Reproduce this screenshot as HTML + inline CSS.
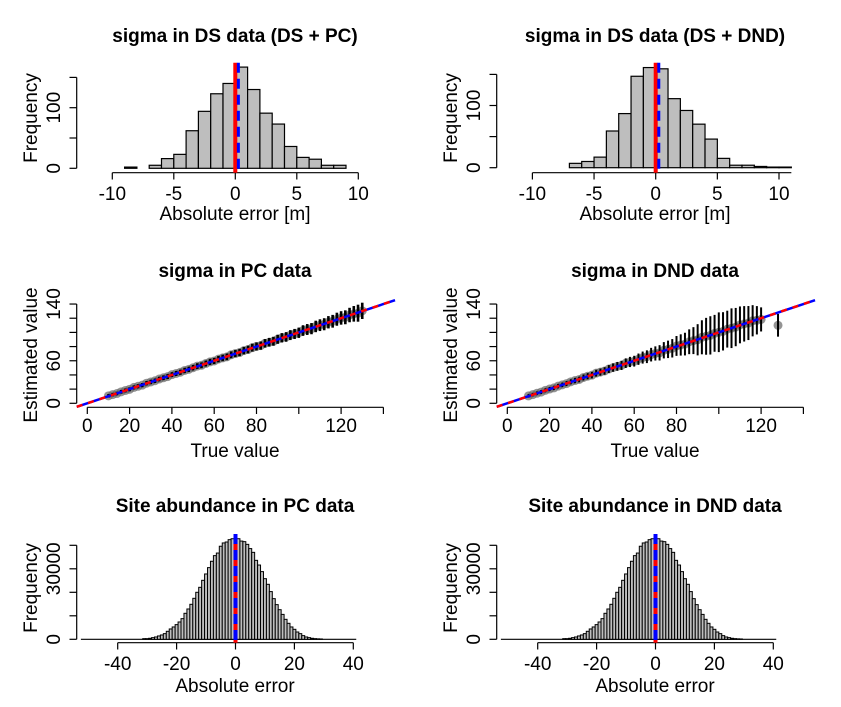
<!DOCTYPE html>
<html><head><meta charset="utf-8"><style>
html,body{margin:0;padding:0;background:#fff;}
svg{display:block;font-family:"Liberation Sans",Arial,sans-serif;}
</style></head><body>
<svg id="fig" width="841" height="707" viewBox="0 0 841 707" xmlns="http://www.w3.org/2000/svg">
<rect width="841" height="707" fill="#fff"/>
</svg>
<script>
// ---- data ----
const tlBinStart = -9;
const tlCounts = [2,0,5,16,23,62,94,123,140,167,130,91,73,36,18,15,5,5];
const trBinStart = -7;
const trCounts = [7,10,17,59,87,147,161,159,111,92,70,46,15,4,4,2,1,1];
const histTicks = [-10,-5,0,5,10];
const freqTicks = [0,50,100,150];
const freqLabels = [0,100];

const abBinStart = -31.5;
const abCounts = [280,280,430,710,990,1420,1840,2410,3400,4400,5250,6240,7370,8790,11060,12900,14890,17440,20000,22120,25100,27800,30500,33200,35600,36700,39600,41000,41400,42400,42800,43250,42800,41800,41550,40400,38600,37000,33600,31600,28800,25800,23400,20300,17300,14750,12600,10600,8500,6800,5250,4250,3100,2400,1560,990,710,430,280,200,150];
const abTicks = [-40,-20,0,20,40];
const abFreqTicks = [0,10000,20000,30000,40000];
const abFreqLabels = [0,30000];

const pcTrue = [10,12,14,16,18,20,22,24,26,28,30,32,34,36,38,40,42,44,46,48,50,52,54,56,58,60,62,64,66,68,70,72,74,76,78,80,82,84,86,88,90,92,94,96,98,100,102,104,106,108,110,112,114,116,118,120,122,124,126,128,130];
const pcEst = [10.5,12.3,13.8,16.2,18.1,19.7,22.4,24,25.6,28.3,30.1,31.8,34.2,36,37.7,40.4,42.1,43.8,46.3,47.9,50.2,52.5,53.6,56.1,58.4,59.7,62.3,64,65.5,68.4,70.2,71.6,74.3,75.8,78.5,80.2,81.4,84.6,86.1,87.5,90.3,92.4,93.6,96.2,97.8,99.5,102.6,104.1,105.3,108.4,110.2,111.5,114.3,115.7,118.6,120.4,121.3,124.5,126.2,127.1,130.4];
const pcHw = [2.5,2.5,2.6,2.7,2.8,2.8,2.9,3,3,3.1,3.2,3.2,3.3,3.4,3.5,3.5,3.6,3.7,3.8,3.8,3.9,4,4.1,4.2,4.3,4.3,4.5,4.6,4.7,4.8,5,5.1,5.2,5.4,5.5,5.6,5.8,6,6.1,6.3,6.4,6.6,6.8,7,7.1,7.3,7.5,7.7,7.9,8.1,8.3,8.5,8.7,9,9.2,9.5,9.8,10.2,11,12,11.5];

const dndTrue = [10,12,14,16,18,20,22,24,26,28,30,32,34,36,38,40,42,44,46,48,50,52,54,56,58,60,62,64,66,68,70,72,74,76,78,80,82,84,86,88,90,92,94,96,98,100,102,104,106,108,110,112,114,116,118,120,128];
const dndEst = [10.4,12.2,14.1,15.8,18.3,20.1,21.7,24.2,26,27.8,30.3,32.1,33.6,36.4,38.2,39.7,42.5,44,45.6,48.3,50.4,52.1,53.5,56.6,58.3,59.4,62.2,64.5,65.7,68.6,70.3,71.2,74.8,76.1,77.6,80.9,82.3,83.5,86.8,88.4,89.6,93.1,94.5,95.8,98.7,100.2,101.5,104.6,105.9,107.5,110.6,112.1,113.2,116.4,117.1,118.3,110];
const dndHw = [2.5,2.6,2.7,2.8,2.9,3,3.1,3.2,3.3,3.5,3.6,3.8,4,4.2,4.4,4.6,4.8,5,5.3,5.6,5.9,6.2,6.5,6.8,7.2,7.6,8,8.5,9,9.6,10,10.8,11.5,12.3,13,14,15,16,17.5,19,22,24,26,27,26,28,27,26,28,27,26,25,24,22,20,17,16];
const scatTicks = [0,20,40,60,80,100,120,140];
const scatXLabels = [0,20,40,60,80,120];
const scatYLabels = [0,60,140];

const FS = 19;
const svg = document.getElementById('fig');
const NS = 'http://www.w3.org/2000/svg';
function mk(tag, attrs, parent){
  const e = document.createElementNS(NS, tag);
  for (const k in attrs) e.setAttribute(k, attrs[k]);
  (parent||svg).appendChild(e);
  return e;
}
function txt(s, x, y, size, opts, parent){
  const e = mk('text', Object.assign({x:x, y:y, 'font-size':size, 'text-anchor':'middle', fill:'#000'}, opts||{}), parent);
  e.textContent = s;
  return e;
}
function panel(name, dx){
  const g = mk('g', {transform:'translate('+dx+',0)'});
  
  
  return g;
}

// ---------- top histograms ----------
function topHist(dx, binStart, counts, x0, ppu, y0, ppc, axisEnd, title, name){
  const g = panel(name, dx);
  const t = txt(title, 235, 42, FS, {'font-weight':'bold'}, g);
  
  
  const X = v => x0 + v*ppu, Y = c => y0 - c*ppc;
  counts.forEach((c,i)=>{
    const a = binStart + i, b = a + 1;
    const r = mk('rect', {x:X(a), y:Y(c), width:X(b)-X(a), height:Math.max(0,Y(0)-Y(c)), fill:'#bebebe', stroke:'#000', 'stroke-width':1.2}, g);
    
    
  });
  const ax = mk('line', {x1:X(histTicks[0]), x2:X(axisEnd), y1:172.7, y2:172.7, stroke:'#000', 'stroke-width':1.2}, g);
  
  
  histTicks.forEach(v=>{
    mk('line', {x1:X(v), x2:X(v), y1:172.7, y2:179.5, stroke:'#000', 'stroke-width':1.2}, g);
    const l = txt(String(v), X(v), 200, FS, {}, g);
    
    
  });
  const xl = txt('Absolute error [m]', 235, 220, FS, {}, g);
  
  
  const ay = mk('line', {x1:76.7, x2:76.7, y1:Y(0), y2:Y(150), stroke:'#000', 'stroke-width':1.2}, g);
  
  
  freqTicks.forEach(v=>{
    mk('line', {x1:69.5, x2:76.7, y1:Y(v), y2:Y(v), stroke:'#000', 'stroke-width':1.2}, g);
  });
  freqLabels.forEach(v=>{
    const l = txt(String(v), 60, Y(v), FS, {transform:'rotate(-90 60 '+Y(v)+')'}, g);
    
    
  });
  const yl = txt('Frequency', 37, 118, FS, {transform:'rotate(-90 37 118)'}, g);
  
  
  const rl = mk('line', {x1:X(0), x2:X(0), y1:62.7, y2:172.7, stroke:'#ff0000', 'stroke-width':4}, g);
  
  
  const bl = mk('line', {x1:X(0.25), x2:X(0.25), y1:62.7, y2:172.7, stroke:'#0000ff', 'stroke-width':3, 'stroke-dasharray':'10,6'}, g);
  
  
}
topHist(0, tlBinStart, tlCounts, 235.3, 12.3, 168.3, 0.606, 10, 'sigma in DS data (DS + PC)', 'panel-ds-pc');
topHist(420, trBinStart, trCounts, 235.7, 12.33, 167.7, 0.622, 11, 'sigma in DS data (DS + DND)', 'panel-ds-dnd');

// ---------- middle scatter ----------
function scatter(dx, trueV, estV, hwV, barW, title, name){
  const g = panel(name, dx);
  const t = txt(title, 235, 277, FS, {'font-weight':'bold'}, g);
  
  
  const X = v => 87.3 + v*2.115, Y = v => 403.3 - v*0.709;
  trueV.forEach((tv,i)=>{
    const p = mk('circle', {cx:X(tv), cy:Y(estV[i]), r:4.5, fill:'#666', 'fill-opacity':0.7}, g);
    
    
  });
  trueV.forEach((tv,i)=>{
    const e = mk('line', {x1:X(tv), x2:X(tv), y1:Y(estV[i]-hwV[i]), y2:Y(estV[i]+hwV[i]), stroke:'#000', 'stroke-width':barW}, g);
    
    
  });
  const l1 = mk('line', {x1:X(-5), y1:Y(-5), x2:X(145.5), y2:Y(145.5), stroke:'#0000ff', 'stroke-width':2.5}, g);
  
  
  const l2 = mk('line', {x1:X(-5), y1:Y(-5), x2:X(145.5), y2:Y(145.5), stroke:'#ff0000', 'stroke-width':2.5, 'stroke-dasharray':'6,6'}, g);
  
  
  const ax = mk('line', {x1:X(0), x2:X(140), y1:407.3, y2:407.3, stroke:'#000', 'stroke-width':1.2}, g);
  
  
  const ay = mk('line', {x1:76.7, x2:76.7, y1:Y(0), y2:Y(140), stroke:'#000', 'stroke-width':1.2}, g);
  
  
  scatTicks.forEach(v=>{
    mk('line', {x1:X(v), x2:X(v), y1:407.3, y2:414, stroke:'#000', 'stroke-width':1.2}, g);
    mk('line', {x1:69.5, x2:76.7, y1:Y(v), y2:Y(v), stroke:'#000', 'stroke-width':1.2}, g);
  });
  scatXLabels.forEach(v=>{
    const l = txt(String(v), X(v), 432, FS, {}, g);
    
    
  });
  scatYLabels.forEach(v=>{
    const l = txt(String(v), 60, Y(v), FS, {transform:'rotate(-90 60 '+Y(v)+')'}, g);
    
    
  });
  const xl = txt('True value', 235, 457, FS, {}, g);
  
  
  const yl = txt('Estimated value', 37, 355, FS, {transform:'rotate(-90 37 355)'}, g);
  
  
}
scatter(0, pcTrue, pcEst, pcHw, 2.6, 'sigma in PC data', 'panel-sigma-pc');
scatter(420, dndTrue, dndEst, dndHw, 2, 'sigma in DND data', 'panel-sigma-dnd');

// ---------- bottom histograms ----------
function botHist(dx, title, name){
  const g = panel(name, dx);
  const t = txt(title, 235, 512, FS, {'font-weight':'bold'}, g);
  
  
  const X = v => 235.5 + v*2.945, Y = c => 639.3 - c*23.5/10000;
  const base = mk('line', {x1:X(-52.5), x2:X(41), y1:Y(0), y2:Y(0), stroke:'#000', 'stroke-width':1.2}, g);
  
  
  abCounts.forEach((c,i)=>{
    const a = abBinStart + i, b = a + 1;
    const r = mk('rect', {x:X(a), y:Y(c), width:X(b)-X(a), height:Y(0)-Y(c), fill:'#bebebe', stroke:'#000', 'stroke-width':1}, g);
    
    
  });
  const ax = mk('line', {x1:X(-40), x2:X(40), y1:642.7, y2:642.7, stroke:'#000', 'stroke-width':1.2}, g);
  
  
  abTicks.forEach(v=>{
    mk('line', {x1:X(v), x2:X(v), y1:642.7, y2:649.5, stroke:'#000', 'stroke-width':1.2}, g);
    const l = txt(String(v), X(v), 670, FS, {}, g);
    
    
  });
  const ay = mk('line', {x1:76.7, x2:76.7, y1:Y(0), y2:Y(40000), stroke:'#000', 'stroke-width':1.2}, g);
  
  
  abFreqTicks.forEach(v=>{
    mk('line', {x1:69.5, x2:76.7, y1:Y(v), y2:Y(v), stroke:'#000', 'stroke-width':1.2}, g);
  });
  abFreqLabels.forEach(v=>{
    const l = txt(String(v), 60, Y(v), FS, {transform:'rotate(-90 60 '+Y(v)+')'}, g);
    
    
  });
  const xl = txt('Absolute error', 235, 692, FS, {}, g);
  
  
  const yl = txt('Frequency', 37, 588, FS, {transform:'rotate(-90 37 588)'}, g);
  
  
  const rl = mk('line', {x1:X(0), x2:X(0), y1:534, y2:642.7, stroke:'#ff0000', 'stroke-width':4}, g);
  
  
  const bl = mk('line', {x1:X(0), x2:X(0), y1:534, y2:642.7, stroke:'#0000ff', 'stroke-width':4, 'stroke-dasharray':'10,6'}, g);
  
  
}
botHist(0, 'Site abundance in PC data', 'panel-abundance-pc');
botHist(420, 'Site abundance in DND data', 'panel-abundance-dnd');
</script>
</body></html>
